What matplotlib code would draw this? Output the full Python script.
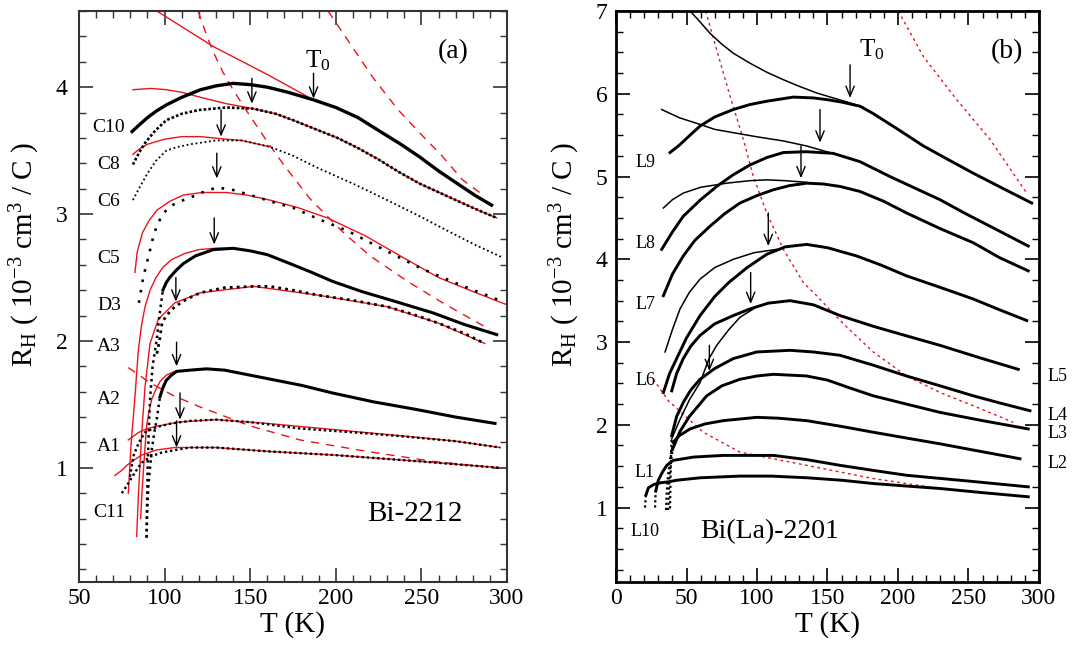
import matplotlib
matplotlib.use("Agg")
import matplotlib.pyplot as plt
from matplotlib.ticker import MultipleLocator

plt.rcParams["font.family"] = "Liberation Serif"
plt.rcParams["mathtext.fontset"] = "custom"
plt.rcParams["mathtext.rm"] = "Liberation Serif"
plt.rcParams["mathtext.it"] = "Liberation Serif:italic"

# ── DATA: panel (a) Bi-2212 ─────────────────────────────────
# black data curves (T in K, R_H in 1e-3 cm^3/C)
C10_T = [81, 85, 90, 95, 101, 110, 121, 130, 140, 150, 160, 172, 187, 200, 213, 226, 238, 249, 260, 271, 281, 291]
C10_R = [3.65, 3.70, 3.76, 3.81, 3.86, 3.92, 3.98, 4.01, 4.03, 4.02, 4.00, 3.96, 3.90, 3.84, 3.76, 3.65, 3.55, 3.45, 3.34, 3.24, 3.15, 3.07]
C8_T = [81.5, 85, 88, 94, 101, 110, 120, 136, 152, 165, 175, 188, 201, 213, 225, 237, 249, 262, 275, 285, 294]
C8_R = [3.39, 3.48, 3.55, 3.65, 3.74, 3.79, 3.82, 3.84, 3.83, 3.79, 3.74, 3.67, 3.60, 3.52, 3.43, 3.33, 3.24, 3.16, 3.08, 3.02, 2.97]
C6_T = [81.5, 85, 90, 95, 101, 108, 115, 130, 145, 161.5, 175, 190, 210, 230, 248, 265, 281, 297]
C6_R = [3.11, 3.20, 3.32, 3.42, 3.50, 3.53, 3.55, 3.58, 3.58, 3.53, 3.46, 3.36, 3.24, 3.11, 2.99, 2.87, 2.76, 2.66]
C5_T = [85, 87.5, 90.5, 93, 95.5, 99, 103, 109, 115, 122, 130.5, 140, 150, 162, 175, 190, 206.5, 228, 250, 273, 297.6]
C5_R = [2.30, 2.50, 2.66, 2.80, 2.91, 3.00, 3.06, 3.10, 3.13, 3.17, 3.21, 3.19, 3.15, 3.10, 3.05, 2.96, 2.87, 2.72, 2.57, 2.44, 2.31]
D3_T = [99, 101, 103, 107, 111, 118, 128.5, 140, 150, 160, 175, 186, 198, 215, 235, 257, 275, 294]
D3_R = [2.40, 2.46, 2.50, 2.56, 2.61, 2.67, 2.72, 2.73, 2.71, 2.68, 2.60, 2.54, 2.47, 2.39, 2.31, 2.22, 2.13, 2.05]
D3_drop_T = [89.5, 89.8, 90.1, 90.8, 91.5, 93, 95.4, 97, 99]
D3_drop_R = [0.45, 0.75, 1.01, 1.30, 1.54, 1.80, 2.01, 2.20, 2.40]
A3_T = [95.5, 97, 98.5, 101, 106, 113, 121, 135, 152, 161.5, 175, 190, 210, 230, 245, 260, 275, 287]
A3_R = [1.90, 2.00, 2.14, 2.20, 2.27, 2.33, 2.38, 2.42, 2.43, 2.43, 2.40, 2.36, 2.32, 2.27, 2.21, 2.14, 2.06, 1.98]
A2_T = [97.3, 99, 101, 104, 107, 115, 124.5, 135, 150, 165, 180, 198, 222, 247, 270, 293]
A2_R = [1.56, 1.63, 1.69, 1.73, 1.76, 1.77, 1.78, 1.77, 1.73, 1.69, 1.65, 1.59, 1.52, 1.46, 1.40, 1.35]
A2_drop_T = [89.5, 89.8, 90.5, 91.5, 92.5, 94, 95.4, 97.3]
A2_drop_R = [0.45, 0.65, 0.85, 1.00, 1.14, 1.28, 1.38, 1.56]
A1_T = [79.8, 81, 82, 85, 88.6, 95, 104, 115, 130, 150, 179, 210, 237.5, 270, 296]
A1_R = [0.93, 1.03, 1.10, 1.20, 1.28, 1.32, 1.35, 1.37, 1.38, 1.36, 1.31, 1.28, 1.25, 1.21, 1.16]
C11_T = [75, 78, 80.7, 83.5, 86.6, 92, 98.3, 106, 115, 130, 160, 200, 250, 296]
C11_R = [0.80, 0.86, 0.92, 0.98, 1.04, 1.09, 1.12, 1.14, 1.16, 1.16, 1.13, 1.10, 1.05, 1.00]

# red solid fits
fC10_T = [95.5, 128.5, 160, 187, 200, 213, 226]
fC10_R = [4.60, 4.32, 4.10, 3.90, 3.84, 3.76, 3.65]
fC8_T = [81.5, 92, 101, 110, 121, 136, 152, 165, 175, 188, 201, 213, 225, 237, 249, 262, 275, 285, 294]
fC8_R = [3.98, 3.99, 3.98, 3.96, 3.92, 3.87, 3.83, 3.79, 3.74, 3.67, 3.60, 3.52, 3.43, 3.33, 3.24, 3.16, 3.08, 3.02, 2.97]
fC6_T = [81.5, 85, 90, 100, 110, 121, 136, 145, 161.5]
fC6_R = [3.47, 3.51, 3.55, 3.59, 3.61, 3.61, 3.59, 3.58, 3.53]
fC5_T = [82.7, 84, 87, 91, 95.5, 103, 111, 122, 136, 148, 161.5, 178, 195, 217, 239, 260, 280, 299]
fC5_R = [2.54, 2.70, 2.85, 2.95, 3.03, 3.10, 3.15, 3.17, 3.17, 3.15, 3.11, 3.05, 2.97, 2.83, 2.66, 2.50, 2.39, 2.29]
fD3_T = [78.8, 80.5, 82.7, 84.7, 86.5, 88.6, 91.5, 95, 99, 104, 112, 120, 129.4, 140, 150, 160, 175, 186, 198, 215, 235, 257, 275, 294]
fD3_R = [0.80, 1.20, 1.56, 1.93, 2.12, 2.27, 2.40, 2.50, 2.58, 2.64, 2.69, 2.72, 2.73, 2.73, 2.71, 2.68, 2.60, 2.54, 2.47, 2.39, 2.31, 2.22, 2.13, 2.05]
fA3_T = [83.7, 84.6, 86.6, 88.6, 91.5, 96.3, 106, 121, 152, 190, 230, 260, 287]
fA3_R = [0.46, 0.75, 1.27, 1.64, 1.98, 2.17, 2.30, 2.38, 2.43, 2.36, 2.27, 2.14, 1.98]
fA2_T = [86, 87, 88, 89.5, 91, 92.5, 95, 97.3, 101, 106, 115, 124.5, 135, 150, 165, 180, 198, 222, 247, 270, 293]
fA2_R = [0.60, 0.85, 1.05, 1.33, 1.45, 1.54, 1.62, 1.68, 1.73, 1.76, 1.77, 1.78, 1.77, 1.73, 1.69, 1.65, 1.59, 1.52, 1.46, 1.40, 1.35]
fA1_T = [78.8, 85, 90, 96.3, 108, 130, 160, 200, 240, 270, 296]
fA1_R = [1.22, 1.28, 1.31, 1.33, 1.36, 1.38, 1.35, 1.30, 1.25, 1.21, 1.16]
fC11_T = [71, 75, 78, 82, 86.6, 95, 106, 130, 160, 200, 250, 296]
fC11_R = [0.94, 0.98, 1.02, 1.06, 1.10, 1.14, 1.16, 1.16, 1.13, 1.10, 1.05, 1.00]

# red dashed lines
dash1_T = [195.5, 208, 222, 236.5, 249, 262.6, 274, 286]
dash1_R = [4.60, 4.35, 4.07, 3.82, 3.64, 3.45, 3.27, 3.15]
dash2_T = [119.6, 124, 128, 134, 140, 150, 160, 170, 185, 204, 220, 243, 265, 290]
dash2_R = [4.60, 4.43, 4.29, 4.12, 3.98, 3.77, 3.57, 3.38, 3.12, 2.86, 2.67, 2.46, 2.28, 2.09]
dash3_T = [78.8, 91.5, 105, 120.7, 150, 179, 218, 257, 294]
dash3_R = [1.79, 1.67, 1.57, 1.48, 1.33, 1.22, 1.13, 1.05, 1.00]

# T0 arrows (tip T, tip R, tail R)
a_arrow_T = [187, 151, 133, 130.5, 129, 106.6, 107, 109, 107]
a_arrow_tip = [3.91, 3.87, 3.61, 3.28, 2.76, 2.31, 1.80, 1.38, 1.16]
a_arrow_tail = [4.11, 4.07, 3.82, 3.48, 2.97, 2.50, 1.99, 1.59, 1.37]

a_labels = ["C10", "C8", "C6", "C5", "D3", "A3", "A2", "A1", "C11"]
a_label_R = [3.68, 3.39, 3.10, 2.65, 2.28, 1.96, 1.54, 1.17, 0.65]

# ── DATA: panel (b) Bi(La)-2201 ─────────────────────────────
L9_T = [38.3, 45, 52.5, 59.6, 70, 83.2, 95, 106.9, 125.7, 140, 149.4, 160, 173, 182.5, 200, 218, 235, 253.4, 274, 294.8]
L9_R = [5.29, 5.38, 5.50, 5.61, 5.72, 5.81, 5.87, 5.91, 5.96, 5.95, 5.93, 5.90, 5.85, 5.76, 5.57, 5.37, 5.21, 5.04, 4.86, 4.68]
L8_T = [32.4, 40, 47.7, 60, 71.4, 83, 95, 107, 118.7, 135.2, 154, 173, 194.3, 212, 229.8, 247, 265.2, 292.4]
L8_R = [4.12, 4.33, 4.52, 4.72, 4.88, 5.02, 5.14, 5.23, 5.29, 5.30, 5.28, 5.18, 5.00, 4.86, 4.72, 4.56, 4.40, 4.16]
L7_T = [33.6, 40, 47.7, 56, 66.7, 77, 87.9, 100, 111.6, 123, 135.2, 147, 158.9, 173, 190, 206, 230, 253.4, 272, 292.4]
L7_R = [3.56, 3.82, 4.04, 4.23, 4.40, 4.55, 4.68, 4.77, 4.84, 4.89, 4.92, 4.91, 4.88, 4.82, 4.70, 4.56, 4.37, 4.20, 4.02, 3.86]
L6_T = [33.6, 38, 43, 50, 59.6, 70, 80, 93, 106.9, 120, 135.2, 150, 170.7, 188, 206, 230, 253.4, 272, 291.3]
L6_R = [2.39, 2.62, 2.80, 3.05, 3.32, 3.55, 3.72, 3.90, 4.06, 4.15, 4.18, 4.14, 4.04, 3.93, 3.80, 3.66, 3.52, 3.39, 3.26]
L5_T = [39.5, 43, 47.7, 53, 59.6, 70, 83.2, 95, 108, 123.4, 140, 158.9, 182.5, 205, 229.8, 258, 285.3]
L5_R = [2.41, 2.62, 2.80, 2.95, 3.08, 3.22, 3.32, 3.40, 3.47, 3.50, 3.45, 3.32, 3.19, 3.08, 2.96, 2.81, 2.67]
L4_T = [39.5, 43, 47.7, 53, 59.6, 70, 83.2, 99.8, 123.4, 140, 158.9, 182.5, 206, 230, 253.4, 273, 293.6]
L4_R = [1.87, 2.10, 2.27, 2.42, 2.55, 2.68, 2.80, 2.88, 2.90, 2.88, 2.84, 2.72, 2.59, 2.47, 2.35, 2.26, 2.17]
L4_drop_T = [38.3, 38.6, 38.9, 39.5]
L4_drop_R = [0.99, 1.25, 1.55, 1.87]
L3_T = [40, 45.4, 52, 64.3, 75, 87.9, 100, 111.6, 135.2, 150, 165, 182.5, 206, 229.8, 260, 292.4]
L3_R = [1.70, 1.92, 2.10, 2.35, 2.47, 2.55, 2.59, 2.61, 2.59, 2.54, 2.45, 2.35, 2.25, 2.15, 2.05, 1.95]
L3_drop_T = [37, 37.5, 38, 40]
L3_drop_R = [0.97, 1.20, 1.40, 1.70]
L2_T = [40.6, 45, 52.5, 63, 76, 99.8, 115, 135.2, 160, 182.5, 206, 229.8, 258, 286.5]
L2_R = [1.79, 1.87, 1.95, 2.01, 2.05, 2.09, 2.08, 2.05, 1.98, 1.91, 1.84, 1.77, 1.68, 1.59]
L2_drop_T = [35.5, 36, 37, 38.5, 40.6]
L2_drop_R = [0.97, 1.20, 1.40, 1.60, 1.79]
L1_T = [28.2, 30, 33, 36, 40.6, 55, 76, 111.6, 135, 158.9, 182, 206, 250, 292.4]
L1_R = [1.20, 1.33, 1.43, 1.51, 1.57, 1.61, 1.63, 1.63, 1.58, 1.51, 1.45, 1.39, 1.32, 1.25]
L1_drop_T = [27.7, 27.9, 28.2]
L1_drop_R = [1.00, 1.10, 1.20]
L10_T = [21.2, 23, 27, 32, 37, 43, 60, 87.9, 110, 135.2, 160, 182.5, 206, 229.8, 260, 292.4]
L10_R = [1.15, 1.24, 1.28, 1.30, 1.31, 1.33, 1.36, 1.38, 1.38, 1.36, 1.33, 1.29, 1.26, 1.23, 1.18, 1.13]
L10_drop_T = [20.6, 20.9, 21.2]
L10_drop_R = [1.00, 1.08, 1.15]

# thin black fit lines
t1_T = [52.5, 58, 66.7, 75, 83.2, 95, 107, 118.7, 130, 142.3, 154, 166, 175]
t1_R = [7.00, 6.90, 6.73, 6.60, 6.49, 6.37, 6.26, 6.17, 6.09, 6.01, 5.95, 5.89, 5.84]
t2_T = [32.4, 45, 59.6, 70, 83.2, 100, 118.7, 135, 149.4, 160]
t2_R = [5.81, 5.71, 5.63, 5.57, 5.53, 5.48, 5.43, 5.37, 5.30, 5.25]
t3_T = [33.6, 40, 47.7, 60, 78.5, 95, 106.9, 120, 135.2]
t3_R = [4.62, 4.72, 4.80, 4.87, 4.92, 4.95, 4.96, 4.95, 4.93]
t4_T = [34.8, 40, 45.4, 52, 59.6, 70, 83.2, 98, 114]
t4_R = [2.88, 3.15, 3.40, 3.60, 3.76, 3.90, 4.00, 4.08, 4.12]
t5_T = [39.5, 45, 52, 59.6, 66, 71.4, 80, 88, 97.4]
t5_R = [1.83, 2.05, 2.30, 2.51, 2.80, 2.96, 3.15, 3.30, 3.40]

# red dotted lines
rd1_T = [63.6, 71.4, 80.9, 90.3, 97.4, 106.9, 118.7, 132.8, 142.3, 161.2, 182.5, 206, 229.8, 253.4, 281.8]
rd1_R = [7.00, 6.53, 5.97, 5.45, 5.00, 4.56, 4.12, 3.72, 3.56, 3.22, 2.88, 2.59, 2.39, 2.23, 2.03]
rd2_T = [200.2, 218, 241.6, 265.2, 291.3]
rd2_R = [7.00, 6.45, 5.93, 5.45, 4.80]
rd3_T = [26.5, 37.1, 61.9, 87.9, 135.2, 182.5, 229.8, 253.4]
rd3_R = [2.55, 2.29, 1.91, 1.67, 1.51, 1.35, 1.23, 1.19]

b_arrow_T = [166, 144.7, 131.2, 108, 95.5, 66.2]
b_arrow_tip = [5.95, 5.41, 4.98, 4.16, 3.46, 2.65]
b_arrow_tail = [6.35, 5.81, 5.37, 4.56, 3.84, 2.96]

b_left_labels = ["L9", "L8", "L7", "L6", "L1", "L10"]
b_left_R = [5.17, 4.19, 3.45, 2.53, 1.42, 0.71]
b_right_labels = ["L5", "L4", "L3", "L2"]
b_right_R = [2.58, 2.11, 1.89, 1.53]

# ── FIGURE ──────────────────────────────────────────────────
fig = plt.figure(figsize=(10.73, 6.49), dpi=100)
axa = fig.add_axes([0.0736, 0.1032, 0.3989, 0.8798])
axb = fig.add_axes([0.5741, 0.1032, 0.3942, 0.8798])

RED = "#e8141c"
ylab = r"R$_\mathrm{H}$ ( 10$^{\mathrm{-3}}$ cm$^3$ / C )"


def arrows(ax, xs, tips, tails):
    for x, tip, tail in zip(xs, tips, tails):
        ax.annotate("", xy=(x, tip), xytext=(x, tail),
                    arrowprops=dict(arrowstyle="->,head_length=0.6,head_width=0.25",
                                    color="k", lw=1.0, mutation_scale=12,
                                    shrinkA=0, shrinkB=0))


# panel (a)
for T, R in [(fC10_T, fC10_R), (fC8_T, fC8_R), (fC6_T, fC6_R), (fC5_T, fC5_R),
             (fD3_T, fD3_R), (fA3_T, fA3_R), (fA2_T, fA2_R), (fA1_T, fA1_R),
             (fC11_T, fC11_R)]:
    axa.plot(T, R, color=RED, lw=1.0, zorder=2)
for T, R in [(dash1_T, dash1_R), (dash2_T, dash2_R), (dash3_T, dash3_R)]:
    axa.plot(T, R, color=RED, lw=1.0, linestyle=(0, (6, 5)), zorder=2)

axa.plot(C10_T, C10_R, color="k", lw=2.4, zorder=3)
axa.plot(C8_T, C8_R, color="k", lw=1.9, linestyle=(0, (1, 0.8)), zorder=3)
axa.plot(C6_T, C6_R, color="k", lw=1.3, linestyle=(0, (1, 1.5)), zorder=3)
axa.plot(C5_T, C5_R, color="k", lw=1.9, linestyle=(0, (1, 3)), zorder=3)
axa.plot(D3_T, D3_R, color="k", lw=2.2, zorder=3)
axa.plot(D3_drop_T, D3_drop_R, color="k", lw=1.8, linestyle=(0, (1, 1.5)), zorder=3)
axa.plot(A3_T, A3_R, color="k", lw=2.0, linestyle=(0, (1, 1.5)), zorder=3)
axa.plot(A2_T, A2_R, color="k", lw=2.2, zorder=3)
axa.plot(A2_drop_T, A2_drop_R, color="k", lw=1.8, linestyle=(0, (1, 1.5)), zorder=3)
axa.plot(A1_T, A1_R, color="k", lw=1.7, linestyle=(0, (1, 1.2)), zorder=3)
axa.plot(C11_T, C11_R, color="k", lw=1.7, linestyle=(0, (1, 1.2)), zorder=3)

arrows(axa, a_arrow_T, a_arrow_tip, a_arrow_tail)
for lab, r in zip(a_labels, a_label_R):
    axa.text(67.5, r, lab, fontsize=14, ha="center", va="center")
axa.text(189.6, 4.21, r"T$_0$", fontsize=18, ha="center", va="center")
axa.text(268.5, 4.28, "(a)", fontsize=20, ha="center", va="center")
axa.text(246, 0.64, "Bi-2212", fontsize=21, ha="center", va="center")

axa.set_xlim(50, 300)
axa.set_ylim(0.1, 4.6)
axa.xaxis.set_major_locator(MultipleLocator(50))
axa.xaxis.set_minor_locator(MultipleLocator(10))
axa.yaxis.set_major_locator(MultipleLocator(1))
axa.yaxis.set_minor_locator(MultipleLocator(0.2))

# panel (b)
for T, R in [(rd1_T, rd1_R), (rd2_T, rd2_R), (rd3_T, rd3_R)]:
    axb.plot(T, R, color=RED, lw=1.0, linestyle=(0, (2, 2.5)), zorder=2)
for T, R in [(t1_T, t1_R), (t2_T, t2_R), (t3_T, t3_R), (t4_T, t4_R), (t5_T, t5_R)]:
    axb.plot(T, R, color="k", lw=1.1, zorder=3)
for T, R in [(L9_T, L9_R), (L8_T, L8_R), (L7_T, L7_R), (L6_T, L6_R), (L5_T, L5_R),
             (L4_T, L4_R), (L3_T, L3_R), (L2_T, L2_R), (L1_T, L1_R), (L10_T, L10_R)]:
    axb.plot(T, R, color="k", lw=2.1, zorder=3)
for T, R in [(L4_drop_T, L4_drop_R), (L3_drop_T, L3_drop_R), (L2_drop_T, L2_drop_R),
             (L1_drop_T, L1_drop_R), (L10_drop_T, L10_drop_R)]:
    axb.plot(T, R, color="k", lw=1.6, linestyle=(0, (1, 1.3)), zorder=3)

arrows(axb, b_arrow_T, b_arrow_tip, b_arrow_tail)
for lab, r in zip(b_left_labels, b_left_R):
    axb.text(20.6, r, lab, fontsize=13, ha="center", va="center")
for lab, r in zip(b_right_labels, b_right_R):
    axb.text(306.4, r, lab, fontsize=13, ha="left", va="center", clip_on=False)
axb.text(181.3, 6.53, r"T$_0$", fontsize=18, ha="center", va="center")
axb.text(277, 6.51, "(b)", fontsize=20, ha="center", va="center")
axb.text(109.2, 0.71, "Bi(La)-2201", fontsize=20, ha="center", va="center")

axb.set_xlim(0, 300)
axb.set_ylim(0.1, 7)
axb.xaxis.set_major_locator(MultipleLocator(50))
axb.xaxis.set_minor_locator(MultipleLocator(10))
axb.yaxis.set_major_locator(MultipleLocator(1))
axb.yaxis.set_minor_locator(MultipleLocator(0.25))

# shared styling
for ax, col, sw, ypad in [(axa, "#333333", 1.5, 8), (axb, "k", 2.0, 6)]:
    for s in ax.spines.values():
        s.set_linewidth(sw)
        s.set_color(col)
    ax.tick_params(which="both", direction="in", top=True, right=True,
                   color=col, labelsize=17)
    ax.tick_params(which="major", length=10, width=1.2)
    ax.tick_params(which="minor", length=5, width=1.0)
    ax.tick_params(axis="y", pad=ypad)
    ax.tick_params(axis="x", pad=4)
    ax.set_xlabel("T (K)", fontsize=21, labelpad=2)

axa.text(-0.126, 0.573, ylab, transform=axa.transAxes, rotation=90,
         fontsize=21, ha="center", va="center")
axb.text(-0.121, 0.573, ylab, transform=axb.transAxes, rotation=90,
         fontsize=21, ha="center", va="center")

fig.savefig("out.png", dpi=100)
